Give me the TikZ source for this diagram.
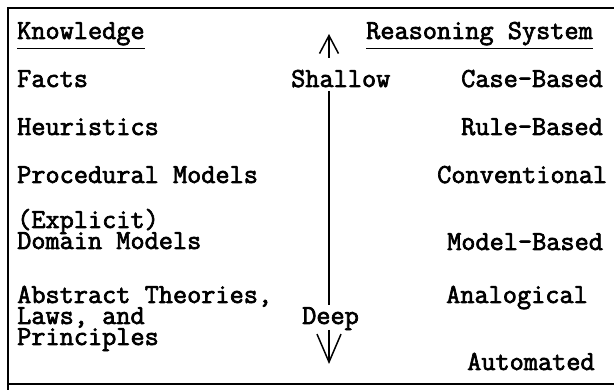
\documentclass[tikz,border=0pt]{standalone}
\usepackage{fontspec}
\usetikzlibrary{arrows.meta}
\newfontfamily\twfamily{Latin Modern Mono}[FakeBold=2.5]
\newcommand{\twfont}{\twfamily\fontsize{27.5}{21}\selectfont}
\begin{document}
\begin{tikzpicture}[x=1pt,y=-1pt,
  txt/.style={inner sep=0pt, font=\twfont},
  lt/.style={txt, anchor=base west},
  frame/.style={line width=1.4pt},
  axisline/.style={line width=1.5pt},
  uptip/.style={axisline, -{Straight Barb[length=18pt,width=19pt,line width=1.5pt]}},
  downtip/.style={axisline, -{Straight Barb[length=28pt,width=24pt,line width=1.5pt]}},
  uline/.style={line width=1.3pt}]
\useasboundingbox (0,0) rectangle (614,390);
\draw[frame] (614,8) -- (8,8) -- (8,390);
\draw[frame] (8,384) -- (614,384);
% left column
\node[lt] (know) at (17,39) {Knowledge};
\draw[uline] (know.south west) ++(0,3) coordinate (ku1) -- (know.south east |- ku1);
\node[lt] (facts) at (17,87) {Facts};
\node[lt] (heur) at (17,135) {Heuristics};
\node[lt] (proc) at (17,183) {Procedural Models};
\node[lt] (expl) at (17,228) {(Explicit)};
\node[lt] (dom) at (17,249) {Domain Models};
\node[lt] (abs) at (17,303) {Abstract Theories,};
\node[lt] (laws) at (17,324) {Laws, and};
\node[lt] (prin) at (17,345) {Principles};
% right column
\node[lt] (reas) at (366,39) {Reasoning System};
\draw[uline] (reas.south west) ++(0,3) coordinate (ru1) -- (reas.south east |- ru1);
\node[lt] (case) at (461,87) {Case-Based};
\node[lt] (rule) at (461,135) {Rule-Based};
\node[lt] (conv) at (437,183) {Conventional};
\node[lt] (model) at (447,250) {Model-Based};
\node[lt] (anal) at (446,303) {Analogical};
\node[lt] (auto) at (467,370) {Automated};
% axis
\node[lt] (shallow) at (291,87) {Shallow};
\node[lt] (deep) at (302,324) {Deep};
\coordinate (toptip) at (329,34);
\coordinate (topbase) at (329,58);
\coordinate (midtop) at (329,91);
\coordinate (midbot) at (329,305);
\coordinate (botbase) at (329,330);
\coordinate (bottip) at (329,364);
\draw[uptip] (topbase) -- (toptip);
\draw[axisline] (midtop) -- (midbot);
\draw[downtip] (botbase) -- (bottip);
\end{tikzpicture}
\end{document}
